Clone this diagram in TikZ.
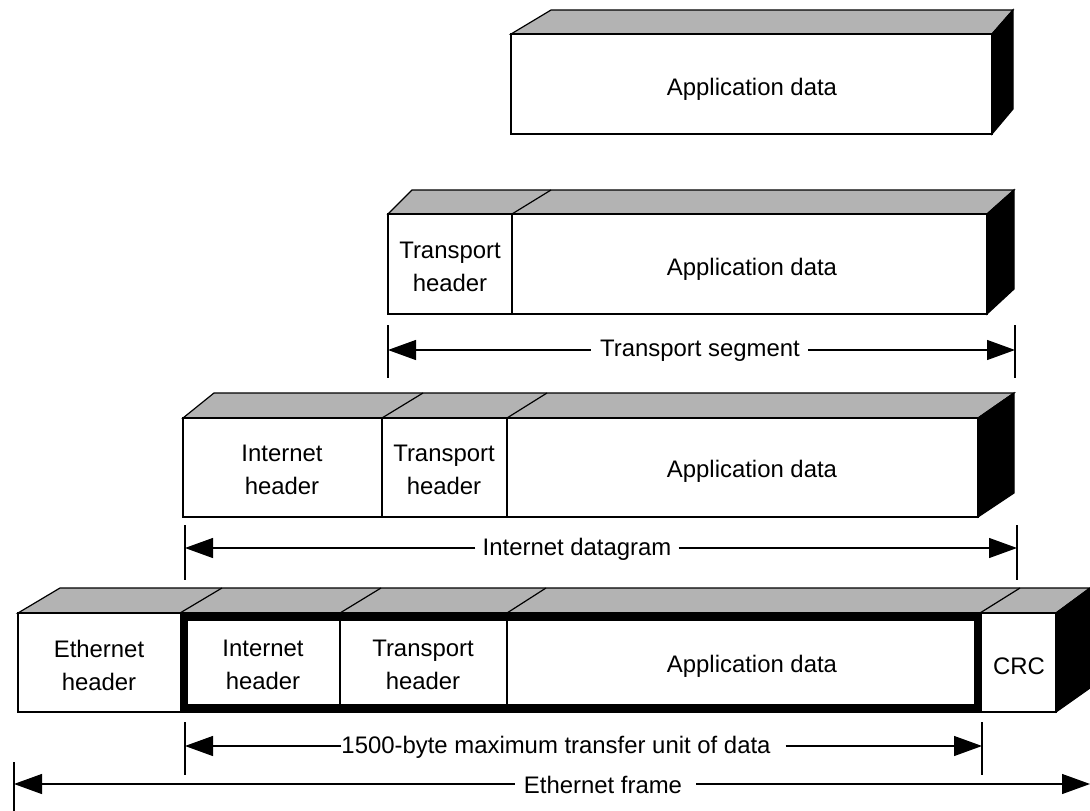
\documentclass[tikz,border=0pt]{standalone}
\usepackage{fontspec}
\setmainfont{Liberation Sans}
\usetikzlibrary{arrows.meta}
\definecolor{topgray}{RGB}{179,179,179}
\begin{document}
\begin{tikzpicture}[x=1pt,y=-1pt,
  edge/.style={line width=1.2pt, line join=miter},
  topface/.style={edge, draw=black, fill=topgray},
  sideface/.style={edge, draw=black, fill=black},
  frontface/.style={edge, draw=black, fill=white},
  divider/.style={edge},
  thickframe/.style={line width=8pt, draw=black},
  lbl/.style={font=\fontsize{23.9}{33}\selectfont, align=center, inner sep=0pt},
  tickline/.style={line width=1.2pt},
  dimarrow/.style={line width=1.2pt, -{Triangle[length=28pt,width=20pt]}},
  dimlbl/.style={font=\fontsize{23.9}{28}\selectfont, inner sep=0pt}
]
\useasboundingbox (0,0) rectangle (1090,811);

% ---------- Box 1: application data ----------
\fill[white] (0,0) rectangle (1090,811);
\draw[topface] (511,34) -- (551,10) -- (1013,10) -- (992,34) -- cycle;
\draw[sideface] (992,34) -- (1013,10) -- (1013,109) -- (992,134) -- cycle;
\draw[frontface] (511,34) rectangle (992,134);
\node[lbl] (b1app) at (752,89) {Application data};

% ---------- Box 2: transport segment ----------
\draw[topface] (388,214) -- (412,190) -- (1014,190) -- (987,214) -- cycle;
\draw[divider] (512,214) -- (551,190);
\draw[sideface] (987,214) -- (1014,190) -- (1014,289) -- (987,314) -- cycle;
\draw[frontface] (388,214) rectangle (987,314);
\draw[divider] (512,214) -- (512,314);
\node[lbl] (b2th) at (450,267) {Transport\\header};
\node[lbl] (b2app) at (752,269) {Application data};

% ---------- Box 3: internet datagram ----------
\draw[topface] (183,418) -- (214,393) -- (1014,393) -- (978,418) -- cycle;
\draw[divider] (382,418) -- (423,393);
\draw[divider] (507,418) -- (547,393);
\draw[sideface] (978,418) -- (1014,393) -- (1014,493) -- (978,517) -- cycle;
\draw[frontface] (183,418) rectangle (978,517);
\draw[divider] (382,418) -- (382,517);
\draw[divider] (507,418) -- (507,517);
\node[lbl] (b3ih) at (282,470) {Internet\\header};
\node[lbl] (b3th) at (444,470) {Transport\\header};
\node[lbl] (b3app) at (752,471) {Application data};

% ---------- Box 4: ethernet frame ----------
\draw[topface] (18,613) -- (60,588) -- (1090,588) -- (1056,613) -- cycle;
\draw[divider] (180,613) -- (222,588);
\draw[divider] (340,613) -- (381,588);
\draw[divider] (507,613) -- (546,588);
\draw[divider] (980,613) -- (1020,588);
\draw[sideface] (1056,613) -- (1090,588) -- (1090,688) -- (1056,712) -- cycle;
\draw[frontface] (18,613) rectangle (1056,712);
\draw[divider] (340,613) -- (340,712);
\draw[divider] (507,613) -- (507,712);
\draw[thickframe] (184,617) rectangle (978,708);
\node[lbl] (b4eh) at (99,665) {Ethernet\\header};
\node[lbl] (b4ih) at (263,665) {Internet\\header};
\node[lbl] (b4th) at (423,665) {Transport\\header};
\node[lbl] (b4app) at (752,666) {Application data};
\node[lbl] (b4crc) at (1019,666) {CRC};

% ---------- Dimension: transport segment ----------
\coordinate (tsLt) at (388,325); \coordinate (tsLb) at (388,378);
\coordinate (tsRt) at (1015,325); \coordinate (tsRb) at (1015,378);
\coordinate (tsL) at (388,350); \coordinate (tsR) at (1015,350);
\draw[tickline] (tsLt) -- (tsLb);
\draw[tickline] (tsRt) -- (tsRb);
\node[dimlbl] (tsT) at (700,351) {Transport segment};
\draw[dimarrow] ([xshift=-9pt]tsT.west |- tsL) -- (tsL);
\draw[dimarrow] ([xshift=8pt]tsT.east |- tsR) -- (tsR);

% ---------- Dimension: internet datagram ----------
\coordinate (idLt) at (185,525); \coordinate (idLb) at (185,580);
\coordinate (idRt) at (1017,525); \coordinate (idRb) at (1017,580);
\coordinate (idL) at (185,548); \coordinate (idR) at (1017,548);
\draw[tickline] (idLt) -- (idLb);
\draw[tickline] (idRt) -- (idRb);
\node[dimlbl] (idT) at (577,549) {Internet datagram};
\draw[dimarrow] ([xshift=-7pt]idT.west |- idL) -- (idL);
\draw[dimarrow] ([xshift=7pt]idT.east |- idR) -- (idR);

% ---------- Dimension: MTU ----------
\coordinate (muLt) at (185,722); \coordinate (muLb) at (185,775);
\coordinate (muRt) at (982,722); \coordinate (muRb) at (982,775);
\coordinate (muL) at (185,746); \coordinate (muR) at (982,746);
\draw[tickline] (muLt) -- (muLb);
\draw[tickline] (muRt) -- (muRb);
\node[dimlbl] (muT) at (556,747) {1500-byte maximum transfer unit of data};
\draw[dimarrow] (muT.west |- muL) -- (muL);
\draw[dimarrow] ([xshift=15pt]muT.east |- muR) -- (muR);

% ---------- Dimension: ethernet frame ----------
\coordinate (efLt) at (14,762); \coordinate (efLb) at (14,811);
\coordinate (efL) at (14,784); \coordinate (efR) at (1090,784);
\draw[tickline] (efLt) -- (efLb);
\node[dimlbl] (efT) at (603,785) {Ethernet frame};
\draw[dimarrow] ([xshift=-9pt]efT.west |- efL) -- (efL);
\draw[dimarrow] ([xshift=14pt]efT.east |- efR) -- (efR);

\end{tikzpicture}
\end{document}
